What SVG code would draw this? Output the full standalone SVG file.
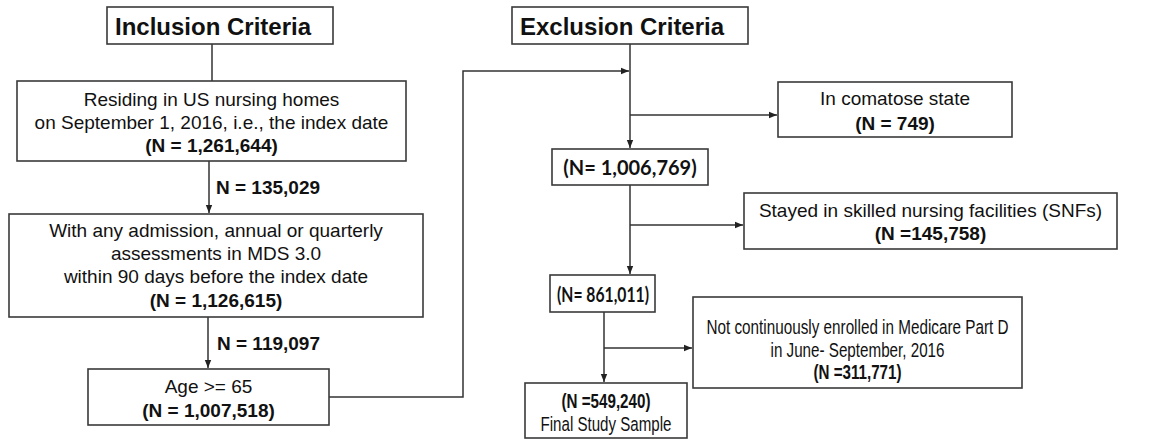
<svg xmlns="http://www.w3.org/2000/svg" width="1161" height="441" viewBox="0 0 1161 441">
<style>
.box{fill:#fff;stroke:#3a3a3a;stroke-width:1.6}
.t{font-family:"Liberation Sans",Arial,sans-serif;font-size:19px;fill:#111;text-anchor:middle}
.n{font-size:20.5px}
.b{font-weight:bold}
.h{font-family:"Liberation Sans",Arial,sans-serif;font-size:24px;font-weight:bold;fill:#111}
.c{font-family:Lato,"Liberation Sans",sans-serif;font-size:20px;font-weight:bold;fill:#111;text-anchor:middle}
.l{font-family:"Liberation Sans",Arial,sans-serif;font-size:19px;font-weight:bold;fill:#111}
.ln{fill:none;stroke:#333;stroke-width:1.5}
.ar{marker-end:url(#ah)}
</style>
<defs>
<marker id="ah" viewBox="0 0 10 10" refX="10" refY="5" markerWidth="8" markerHeight="8" markerUnits="userSpaceOnUse" orient="auto">
<path d="M0,1 L10,5 L0,9 z" fill="#222"/>
</marker>
</defs>
<g id="connectors">
<path class="ln" d="M212,44 V81"/>
<path class="ln ar" d="M209,161 V213"/>
<path class="ln ar" d="M208,317 V368"/>
<path class="ln ar" d="M329,397 H463 V71 H629"/>
<path class="ln ar" d="M630,44 V148"/>
<path class="ln ar" d="M630,115 H777"/>
<path class="ln ar" d="M630,185 V274"/>
<path class="ln ar" d="M630,225 H743"/>
<path class="ln ar" d="M604,312 V382"/>
<path class="ln ar" d="M604,348 H692"/>
<text class="l" x="216" y="194">N = 135,029</text>
<text class="l" x="217" y="350">N = 119,097</text>
</g>
<g id="inclusion">
<rect class="box" x="107" y="7" width="226" height="37"/>
<text class="h" x="115" y="35">Inclusion Criteria</text>
</g>
<g id="exclusion">
<rect class="box" x="512" y="7" width="236" height="37"/>
<text class="h" x="520" y="35">Exclusion Criteria</text>
</g>
<g id="residing">
<rect class="box" x="17" y="81" width="389" height="80"/>
<text class="t" x="211.5" y="106">Residing in US nursing homes</text>
<text class="t" x="211.5" y="129">on September 1, 2016, i.e., the index date</text>
<text class="t b" x="211.5" y="152">(N = 1,261,644)</text>
</g>
<g id="assessments">
<rect class="box" x="9" y="214" width="414" height="103"/>
<text class="t" x="216" y="237">With any admission, annual or quarterly</text>
<text class="t" x="216" y="260">assessments in MDS 3.0</text>
<text class="t" x="216" y="283">within 90 days before the index date</text>
<text class="t b" x="216" y="307">(N = 1,126,615)</text>
</g>
<g id="age">
<rect class="box" x="88" y="369" width="241" height="56"/>
<text class="t" x="208.5" y="393">Age &gt;= 65</text>
<text class="t b" x="208.5" y="417">(N = 1,007,518)</text>
</g>
<g id="comatose">
<rect class="box" x="778" y="82" width="234" height="55"/>
<text class="t" x="895" y="105">In comatose state</text>
<text class="t b" x="895" y="130">(N = 749)</text>
</g>
<g id="n1006769">
<rect class="box" x="552" y="149" width="156" height="36"/>
<text class="c" x="630" y="175">(N= 1,006,769)</text>
</g>
<g id="snf">
<rect class="box" x="744" y="193" width="373" height="56"/>
<text class="t" x="930.5" y="217">Stayed in skilled nursing facilities (SNFs)</text>
<text class="t b" x="930.5" y="240">(N =145,758)</text>
</g>
<g id="n861011">
<rect class="box" x="550" y="275" width="105" height="37"/>
<text class="c" x="603" y="302" font-size="21" textLength="92" lengthAdjust="spacingAndGlyphs">(N= 861,011)</text>
</g>
<g id="medicare">
<rect class="box" x="693" y="297" width="329" height="91"/>
<text class="t n" x="857.5" y="334" textLength="302" lengthAdjust="spacingAndGlyphs">Not continuously enrolled in Medicare Part D</text>
<text class="t n" x="857.5" y="357" textLength="174" lengthAdjust="spacingAndGlyphs">in June- September, 2016</text>
<text class="t n b" x="857.5" y="379" textLength="88" lengthAdjust="spacingAndGlyphs">(N =311,771)</text>
</g>
<g id="final">
<rect class="box" x="525" y="383" width="162" height="55"/>
<text class="t n b" x="606" y="408" textLength="89" lengthAdjust="spacingAndGlyphs">(N =549,240)</text>
<text class="t n" x="606" y="431" textLength="131" lengthAdjust="spacingAndGlyphs">Final Study Sample</text>
</g>
</svg>
